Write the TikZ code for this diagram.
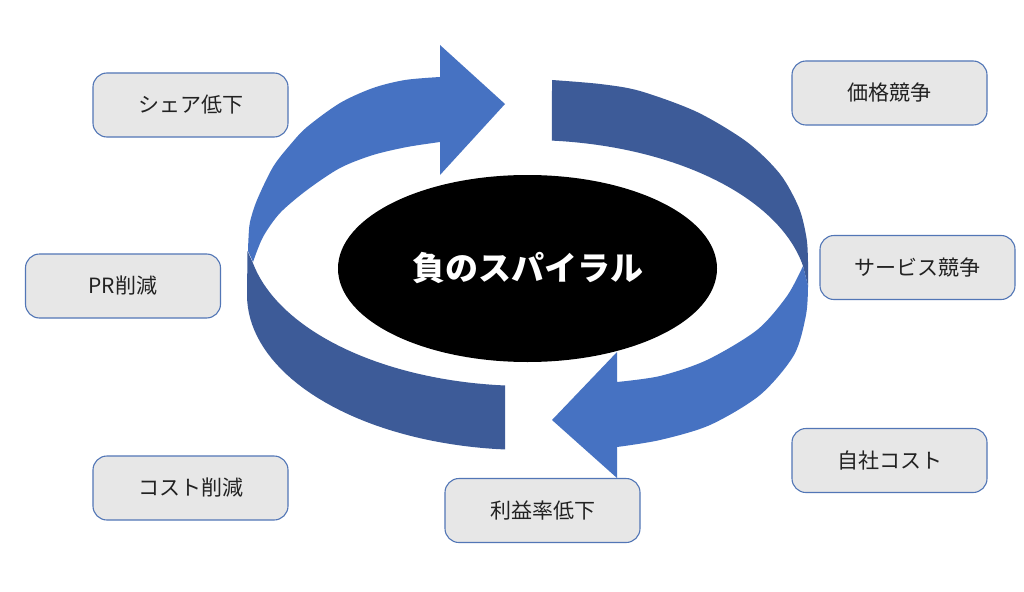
\documentclass[tikz,border=0pt]{standalone}
\usepackage{fontspec}
\usetikzlibrary{shapes.geometric}
\newfontfamily\cjk{Noto Sans CJK JP}
\definecolor{lightblue}{HTML}{4672C2}
\definecolor{darkblue}{HTML}{3D5B98}
\definecolor{boxfill}{HTML}{E7E7E7}
\definecolor{boxline}{HTML}{5276B6}
\definecolor{txt}{HTML}{222222}
\begin{document}
\begin{tikzpicture}[x=1pt,y=-1pt,
  infobox/.style={draw=boxline, line width=1.1pt, fill=boxfill, rounded corners=14pt,
    minimum width=195pt, minimum height=64pt, inner sep=0pt,
    font=\cjk\fontsize{21}{25}\selectfont, text=txt},
  core/.style={ellipse, fill=black, minimum width=379pt, minimum height=187pt, inner sep=0pt,
    text=white, font=\cjk\bfseries\fontsize{33}{38}\selectfont}]
\useasboundingbox (0,0) rectangle (1024,591);
\fill[white] (0,0) rectangle (1024,591);
% upper-left light arrow (back side)
\fill[lightblue] plot[smooth] coordinates {(248,251) (248.5,238) (250,222) (257,200) (273,167) (290,145) (307,127) (340,103) (373,88) (405,80) (440,77)}
  -- (440,45) -- (505,104) -- (440,175) -- (440,142)
  -- plot[smooth] coordinates {(440,142) (407,147) (373,155) (340,168) (307,190) (280,213) (263,237) (253,262)} -- cycle;
% lower-left dark band (front)
\fill[darkblue] plot[domain=168.1:94.6, samples=40] ({527.5+280.5*cos(\x)},{231.5+154.5*sin(\x)})
  -- plot[domain=94.6:180, samples=40] ({527.5+280.5*cos(\x)},{295+155*sin(\x)})
  -- (247.5,251) -- cycle;
% upper-right dark band (back)
\fill[darkblue] plot[smooth] coordinates {(552,80) (600,84) (640,91) (697,112) (747,142) (780,174) (799,208) (806.5,238) (808,262) (808,286)}
  -- (803,266)
  -- plot[domain=348.1:275, samples=40] ({527.5+280.5*cos(\x)},{295+155*sin(\x)}) -- cycle;
% lower-right light arrow (front)
\fill[lightblue] plot[smooth] coordinates {(808,286) (806,315) (794,355) (760,395) (710,425) (660,440) (617,447)}
  -- (617,478) -- (552,420) -- (617,352) -- (617,382)
  -- plot[smooth] coordinates {(617,382) (660,376) (707,360) (757,330) (787,296) (803,266)} -- cycle;
% centre
\node[core] (spiral) at (527.5,268.5) {負のスパイラル};
% boxes
\node[infobox] (share) at (190.5,105) {シェア低下};
\node[infobox] (pr) at (123,286) {PR削減};
\node[infobox] (cost) at (190.5,488) {コスト削減};
\node[infobox] (profit) at (542.5,510.5) {利益率低下};
\node[infobox] (price) at (889.5,93) {価格競争};
\node[infobox] (service) at (917.5,267.5) {サービス競争};
\node[infobox] (own) at (889.5,460.5) {自社コスト};
\end{tikzpicture}
\end{document}
